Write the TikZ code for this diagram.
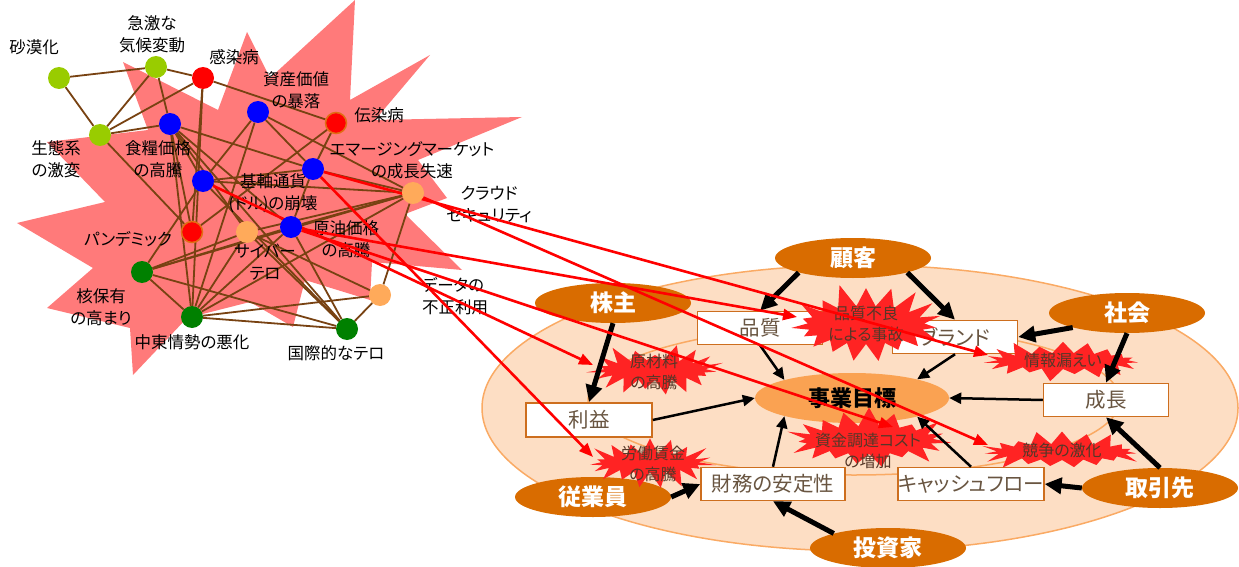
\documentclass[tikz,border=0pt]{standalone}
\usepackage{fontspec}
\newfontfamily\jp{Noto Sans CJK JP}[RawFeature=+palt]
\usetikzlibrary{shapes.symbols,shapes.geometric,arrows.meta,calc}
\pgfdeclarelayer{back}
\pgfdeclarelayer{mid}
\pgfdeclarelayer{reds}
\pgfsetlayers{back,mid,reds,main}
\definecolor{pinkburst}{RGB}{255,122,122}
\definecolor{redburst}{RGB}{255,35,35}
\definecolor{edgebrown}{RGB}{120,66,18}
\definecolor{lgreen}{RGB}{153,204,0}
\definecolor{dgreen}{RGB}{0,128,0}
\definecolor{lorange}{RGB}{255,170,90}
\definecolor{bordorange}{RGB}{225,110,20}
\definecolor{stake}{RGB}{217,108,0}
\definecolor{goalc}{RGB}{250,162,82}
\definecolor{peach}{RGB}{253,222,196}
\definecolor{peachline}{RGB}{250,170,100}
\definecolor{boxline}{RGB}{205,110,30}
\definecolor{boxtext}{RGB}{105,85,65}
\definecolor{bursttext}{RGB}{85,55,40}
\tikzset{
 dot/.style={circle,minimum size=22pt,inner sep=0pt},
 lbl/.style={font=\jp\fontsize{16.5}{22}\selectfont,align=center,inner sep=0pt,text=black},
 netedge/.style={draw=edgebrown,line width=1.8pt},
 redarrow/.style={draw=red,line width=2.6pt,-{Triangle[length=14pt,width=11pt]}},
 stakeholder/.style={ellipse,fill=stake,text=white,font=\jp\bfseries\fontsize{23}{25}\selectfont,minimum width=156pt,minimum height=40pt,inner sep=0pt},
 goalnode/.style={ellipse,fill=goalc,text=black,font=\jp\bfseries\fontsize{22}{24}\selectfont,minimum width=194pt,minimum height=50pt,inner sep=0pt},
 itembox/.style={rectangle,draw=boxline,line width=1.5pt,fill=white,text=boxtext,font=\jp\fontsize{20.5}{23}\selectfont,minimum height=33pt,inner sep=0pt},
 burst/.style={starburst,fill=redburst,draw=none,inner sep=0pt,starburst points=19},
 burstlbl/.style={font=\jp\fontsize{16}{21}\selectfont,align=center,text=bursttext,inner sep=0pt},
 bigarrow/.style={draw=black,line width=5pt,-{Triangle[length=17pt,width=16pt]}},
 thinarrow/.style={draw=black,line width=2.5pt,-{Triangle[length=12pt,width=11pt]}},
}
\begin{document}
\begin{tikzpicture}[x=1pt,y=-1pt]
\useasboundingbox (0,0) rectangle (1239,567);
% ---------- network nodes (top layer)
\node[dot,fill=lgreen] (A) at (59,78) {};
\node[dot,fill=lgreen] (B) at (156,67) {};
\node[dot,fill=red] (C) at (203,78) {};
\node[dot,fill=blue] (D) at (258,112) {};
\node[dot,fill=red,draw=bordorange,line width=1.5pt,minimum size=21pt] (E) at (336,123) {};
\node[dot,fill=lgreen] (F) at (100,135) {};
\node[dot,fill=blue] (G) at (170,124) {};
\node[dot,fill=blue] (H) at (313,169) {};
\node[dot,fill=blue] (I) at (203,181) {};
\node[dot,fill=lorange] (J) at (413,193) {};
\node[dot,fill=red,draw=bordorange,line width=1.5pt,minimum size=21pt] (K) at (192,232) {};
\node[dot,fill=lorange] (L) at (247,232) {};
\node[dot,fill=blue] (M) at (291,227) {};
\node[dot,fill=dgreen] (N) at (142,272) {};
\node[dot,fill=lorange] (O) at (380,295) {};
\node[dot,fill=dgreen] (P) at (192,317) {};
\node[dot,fill=dgreen] (Q) at (347,329) {};
% ---------- background
\begin{pgfonlayer}{back}
\fill[pinkburst] (123,62) -- (218,110) -- (247,32) -- (270,78) -- (355,0) -- (350,100) -- (430,55) -- (375,120) -- (522,117) -- (418,160) -- (447,198) -- (405,214) -- (462,270) -- (372,262) -- (370,300) -- (305,280) -- (293,327) -- (250,302) -- (187,318) -- (133,375) -- (130,328) -- (47,308) -- (93,268) -- (17,223) -- (105,202) -- (47,142) -- (148,130) -- cycle;
\draw[fill=peach,draw=peachline,line width=1.5pt] (860,408) ellipse [x radius=378, y radius=143];
\draw[draw=peachline,line width=1.5pt] (854,400) ellipse [x radius=266, y radius=75];
\end{pgfonlayer}
% ---------- edges and labels
\begin{pgfonlayer}{mid}
\foreach \a/\b in {A/B,A/F,B/C,B/F,B/G,C/F,C/E,C/K,C/P,F/G,F/K,G/H,G/I,G/K,G/P,G/L,G/M,G/Q,D/I,D/P,D/H,D/J,E/H,E/K,H/M,H/I,H/J,I/J,I/N,I/Q,J/M,J/L,J/N,J/P,J/O,L/N,L/Q,L/O,L/P,M/N,M/P,M/Q,N/P,N/Q,P/O,P/Q,Q/O}
  \draw[netedge] (\a) -- (\b);
\node[lbl] (lA) at (34,47) {砂漠化};
\node[lbl] (lB) at (152,34) {急激な\\気候変動};
\node[lbl] (lC) at (234,57) {感染病};
\node[lbl] (lD) at (296,90) {資産価値\\の暴落};
\node[lbl] (lE) at (379,115) {伝染病};
\node[lbl] (lF) at (56,159) {生態系\\の激変};
\node[lbl] (lG) at (158,159) {食糧価格\\の高騰};
\node[lbl] (lH) at (412,160) {エマージングマーケット\\の成長失速};
\node[lbl] (lI) at (273,193) {基軸通貨\\(ドル)の崩壊};
\node[lbl] (lJ) at (489,204) {クラウド\\セキュリティ};
\node[lbl] (lK) at (128,239) {パンデミック};
\node[lbl] (lL) at (265,262) {サイバー\\テロ};
\node[lbl] (lM) at (346,239) {原油価格\\の高騰};
\node[lbl] (lN) at (101,307) {核保有\\の高まり};
\node[lbl,align=left] (lO) at (455,296) {データの\\不正利用};
\node[lbl] (lP) at (192,342) {中東情勢の悪化};
\node[lbl] (lQ) at (336,353) {国際的なテロ};
% ---------- right side
\node[stakeholder] (kokyaku) at (853,258) {顧客};
\node[stakeholder] (kabu) at (613,303) {株主};
\node[stakeholder] (shakai) at (1127,313) {社会};
\node[stakeholder] (jugyo) at (593,497) {従業員};
\node[stakeholder] (torihiki) at (1160,488) {取引先};
\node[stakeholder] (toshi) at (888,548) {投資家};
\node[goalnode] (goal) at (852,398) {事業目標};
\node[itembox,minimum width=125pt] (hin) at (760,328) {品質};
\node[itembox,minimum width=125pt] (brand) at (955,337) {ブランド};
\node[itembox,minimum width=126pt,minimum height=34pt] (rieki) at (589,420) {利益};
\node[itembox,minimum width=125pt] (seicho) at (1106,400) {成長};
\node[itembox,minimum width=144pt] (zaimu) at (773,484) {財務の安定性};
\node[itembox,minimum width=145pt] (cf) at (971,484) {キャッシュフロー};
% risk bursts
\node[burst,minimum width=165pt,minimum height=86pt,starburst point height=24pt,random starburst=11] (b1) at (866,325) {};
\node[burst,minimum width=140pt,minimum height=58pt,starburst point height=19pt,random starburst=23] (b2) at (655,370) {};
\node[burst,minimum width=136pt,minimum height=56pt,starburst point height=19pt,random starburst=37] (b3) at (650,463) {};
\node[burst,minimum width=165pt,minimum height=50pt,starburst point height=17pt,random starburst=41] (b4) at (1063,361) {};
\node[burst,minimum width=168pt,minimum height=68pt,starburst point height=20pt,random starburst=53] (b5) at (869,440) {};
\node[burst,minimum width=165pt,minimum height=50pt,starburst point height=17pt,random starburst=67] (b6) at (1062,452) {};
% black arrows
\draw[bigarrow] (kokyaku.195) -- (hin.north);
\draw[bigarrow] (kokyaku.345) -- (brand.north);
\draw[bigarrow] (kabu.south) -- (rieki.north);
\draw[bigarrow] (shakai.195) -- (brand.east);
\draw[bigarrow] (shakai.south) -- (seicho.north);
\draw[bigarrow] (jugyo.east) -- (zaimu.west);
\draw[bigarrow] (torihiki.north) -- (seicho.south);
\draw[bigarrow] (torihiki.west) -- (cf.east);
\draw[bigarrow] (toshi.165) -- (zaimu.south);
\draw[thinarrow] (hin.south) -- (goal.165);
\draw[thinarrow] (brand.south) -- (goal.16);
\draw[thinarrow] (rieki.east) -- (goal.west);
\draw[thinarrow] (seicho.west) -- (goal.east);
\draw[thinarrow] (zaimu.north) -- (goal.195);
\draw[thinarrow] (cf.north) -- (goal.344);
\node[burstlbl] (tb1) at (866,324) {品質不良\\による事故};
\node[burstlbl] (tb2) at (654,372) {原材料\\の高騰};
\node[burstlbl] (tb3) at (653,464) {労働賃金\\の高騰};
\node[burstlbl] (tb4) at (1063,360) {情報漏えい};
\node[burstlbl] (tb5) at (868,451) {資金調達コスト\\の増加};
\node[burstlbl] (tb6) at (1062,450) {競争の激化};
\end{pgfonlayer}
% ---------- red impact arrows
\coordinate (t1) at (797,317);
\coordinate (t2) at (593,365);
\coordinate (t3) at (593,457);
\coordinate (t4) at (988,355);
\coordinate (t5) at (893,427);
\coordinate (t6) at (988,445);
\begin{pgfonlayer}{reds}
\draw[redarrow] (H) -- (t4);
\draw[redarrow] (J) -- (t6);
\draw[redarrow] (H) -- (t3);
\draw[redarrow] (M) -- (t1);
\draw[redarrow] (M) -- (t5);
\draw[redarrow] (I) -- (t2);
\end{pgfonlayer}
\end{tikzpicture}
\end{document}
